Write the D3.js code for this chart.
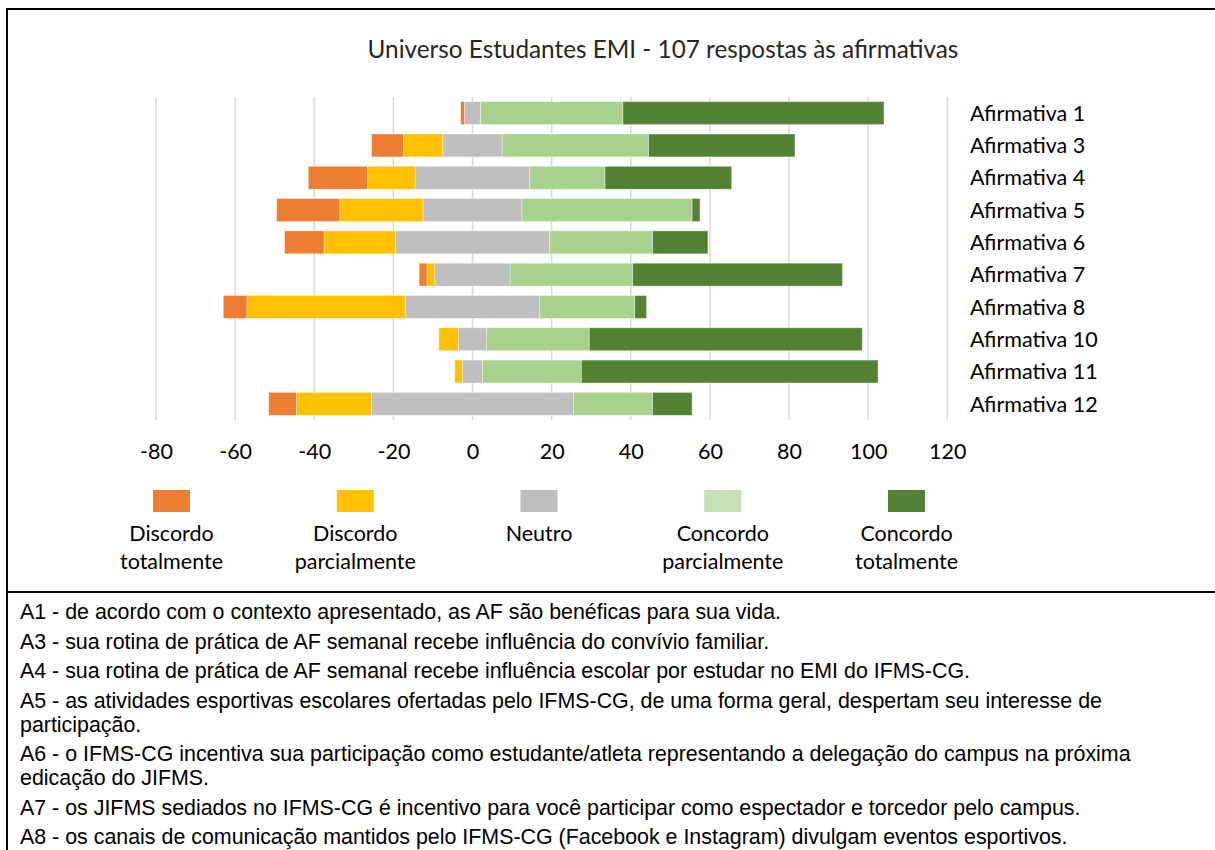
<!DOCTYPE html>
<html>
<head>
<meta charset="utf-8">
<script src="https://cdn.jsdelivr.net/npm/d3@7"></script>
<style>
  body { margin: 0; background: #fff; }
  svg { display: block; }
</style>
</head>
<body>
<script>
// Data
var categories = ["Afirmativa 1", "Afirmativa 3", "Afirmativa 4", "Afirmativa 5", "Afirmativa 6",
                  "Afirmativa 7", "Afirmativa 8", "Afirmativa 10", "Afirmativa 11", "Afirmativa 12"];
var discordoTotal   = [1, 8, 15, 16, 10, 2, 6, 0, 0, 7];
var discordoParcial = [0, 10, 12, 21, 18, 2, 40, 5, 2, 19];
var neutro          = [4, 15, 29, 25, 39, 19, 34, 7, 5, 51];
var concordoParcial = [36, 37, 19, 43, 26, 31, 24, 26, 25, 20];
var concordoTotal   = [66, 37, 32, 2, 14, 53, 3, 69, 75, 10];

var seriesNames = ["Discordo totalmente", "Discordo parcialmente", "Neutro", "Concordo parcialmente", "Concordo totalmente"];
var legendLines = [["Discordo", "totalmente"], ["Discordo", "parcialmente"], ["Neutro"], ["Concordo", "parcialmente"], ["Concordo", "totalmente"]];
var barColors    = ["#ed7d31", "#ffc000", "#bfbfbf", "#a9d18e", "#548235"];
var legendColors = ["#ed7d31", "#ffc000", "#bfbfbf", "#c5e0b4", "#548235"];
var xTicks = [-80, -60, -40, -20, 0, 20, 40, 60, 80, 100, 120];

var title = "Universo Estudantes EMI - 107 respostas às afirmativas";

var notes = [
  ["A1 - de acordo com o contexto apresentado, as AF são benéficas para sua vida."],
  ["A3 - sua rotina de prática de AF semanal recebe influência do convívio familiar."],
  ["A4 - sua rotina de prática de AF semanal recebe influência escolar por estudar no EMI do IFMS-CG."],
  ["A5 - as atividades esportivas escolares ofertadas pelo IFMS-CG, de uma forma geral, despertam seu interesse de", "participação."],
  ["A6 - o IFMS-CG incentiva sua participação como estudante/atleta representando a delegação do campus na próxima", "edicação do JIFMS."],
  ["A7 - os JIFMS sediados no IFMS-CG é incentivo para você participar como espectador e torcedor pelo campus."],
  ["A8 - os canais de comunicação mantidos pelo IFMS-CG (Facebook e Instagram) divulgam eventos esportivos."]
];

var W = 1215, H = 850;
var chartFont = "Lato, 'Open Sans', sans-serif";
var noteFont = "'Liberation Sans', Arial, sans-serif";
var fs = 21.5;

var svg = d3.select("body").append("svg")
  .attr("width", W)
  .attr("height", H);

// frame
svg.append("rect")
  .attr("x", 7).attr("y", 9)
  .attr("width", W + 10).attr("height", H + 10)
  .attr("fill", "none")
  .attr("stroke", "#000")
  .attr("stroke-width", 2);

svg.append("line")
  .attr("x1", 7).attr("x2", W)
  .attr("y1", 592).attr("y2", 592)
  .attr("stroke", "#000")
  .attr("stroke-width", 2);

// title
svg.append("text")
  .attr("x", 663).attr("y", 58)
  .attr("text-anchor", "middle")
  .attr("font-family", chartFont)
  .attr("font-size", 24.3)
  .attr("fill", "#262626")
  .text(title);

// scales
var x = d3.scaleLinear().domain([-80, 120]).range([156, 947.3]);
var y = d3.scaleBand().domain(categories).range([97, 420]).paddingInner(0.29).paddingOuter(0.145);

// gridlines
svg.append("g")
  .selectAll("line")
  .data(xTicks)
  .enter()
  .append("line")
  .attr("x1", function(d){ return x(d); })
  .attr("x2", function(d){ return x(d); })
  .attr("y1", 97).attr("y2", 420)
  .attr("stroke", "#d9d9d9")
  .attr("stroke-width", 1.5);

// stacked diverging segments (neutral split around zero)
var rows = categories.map(function(c, i){
  var vals = [discordoTotal[i], discordoParcial[i], neutro[i], concordoParcial[i], concordoTotal[i]];
  var start = -(vals[0] + vals[1] + vals[2] / 2);
  var segs = [];
  vals.forEach(function(v, k){
    segs.push({cat: c, k: k, x0: start, x1: start + v});
    start += v;
  });
  return segs;
});

svg.append("g")
  .selectAll("g")
  .data(rows)
  .enter()
  .append("g")
  .selectAll("rect")
    .data(function(d){ return d.filter(function(s){ return s.x1 > s.x0; }); })
    .enter()
    .append("rect")
    .attr("x", function(d){ return x(d.x0); })
    .attr("width", function(d){ return x(d.x1) - x(d.x0); })
    .attr("y", function(d){ return y(d.cat); })
    .attr("height", y.bandwidth())
    .attr("fill", function(d){ return barColors[d.k]; })
    .attr("stroke", "#fff")
    .attr("stroke-opacity", 0.5)
    .attr("stroke-width", 0.75);

// category labels on the right
svg.append("g")
  .selectAll("text")
  .data(categories)
  .enter()
  .append("text")
  .attr("x", 970)
  .attr("y", function(d){ return y(d) + y.bandwidth() / 2; })
  .attr("dy", "0.36em")
  .attr("font-family", chartFont)
  .attr("font-size", fs)
  .attr("fill", "#000")
  .text(function(d){ return d; });

// x axis labels (plain hyphen minus like the original)
var xAxis = d3.axisBottom(x).tickValues(xTicks).tickSize(0).tickPadding(0)
  .tickFormat(function(d){ return String(d); });
var ax = svg.append("g")
  .attr("transform", "translate(0,444)")
  .call(xAxis);
ax.select(".domain").remove();
ax.selectAll("text")
  .attr("font-family", chartFont)
  .attr("font-size", fs)
  .attr("fill", "#000");

// legend
var legendX = d3.scalePoint().domain(seriesNames).range([171.5, 906.5]);
var lg = svg.append("g")
  .selectAll("g")
  .data(seriesNames)
  .enter()
  .append("g")
  .attr("transform", function(d){ return "translate(" + legendX(d) + ",0)"; });

lg.append("rect")
  .attr("x", -18.5).attr("y", 490)
  .attr("width", 37).attr("height", 22)
  .attr("fill", function(d, i){ return legendColors[i]; });

lg.append("text")
  .attr("text-anchor", "middle")
  .attr("font-family", chartFont)
  .attr("font-size", fs)
  .attr("fill", "#000")
  .selectAll("tspan")
  .data(function(d, i){ return legendLines[i]; })
  .enter()
  .append("tspan")
  .attr("x", 0)
  .attr("y", function(d, j){ return 541 + j * 27.5; })
  .text(function(d){ return d; });

// notes under the chart
var lineY = 619;
var notesG = svg.append("g")
  .attr("font-family", noteFont)
  .attr("font-size", 21.4)
  .attr("fill", "#000");
notes.forEach(function(para){
  para.forEach(function(line, j){
    notesG.append("text")
      .attr("x", 20)
      .attr("y", lineY)
      .text(line);
    lineY += (j < para.length - 1) ? 24 : 29.5;
  });
});
</script>
</body>
</html>
